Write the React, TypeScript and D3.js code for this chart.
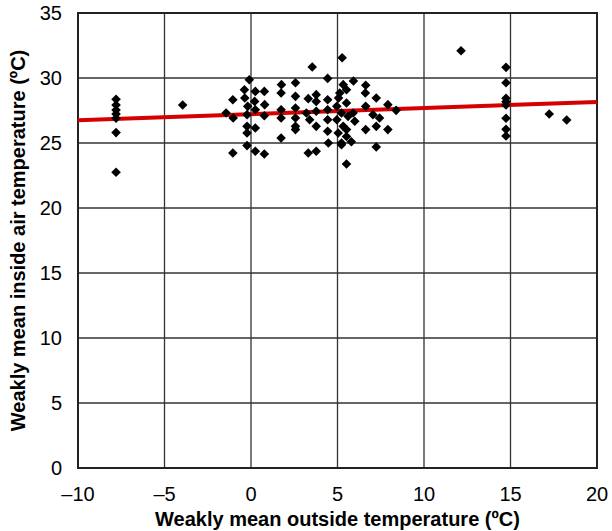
import React, { useRef, useEffect } from 'react';
import * as d3 from 'd3';

// outside temperature (x) and inside temperature (y)
const outsideTemps = [
  -7.8, -7.8, -7.8, -7.8, -7.8, -7.8, -7.8, -3.95,
  5.27, 3.54, -0.1, 4.43, 1.76, 2.57, 5.92, 6.63, -0.38, 0.25, 0.77, -1.05,
  -0.36, 1.74, 2.57, 3.31, 3.77, 3.77, 4.43, 5.06, 5.33, 5.52, 5.13, 6.61,
  7.24, 7.91, 0.21, 0.79, -0.19, -1.44, -1.03, -0.23, 0.25, 0.77, 1.74, 1.74,
  2.57, 2.57, 2.57, 3.2, 3.39, 3.77, 3.77, 4.43, 4.43, 4.43, 4.96, 4.96,
  5.23, 5.52, 5.61, 5.33, 5.04, 5.52, 5.9, 6.0, 6.63, 6.63, 7.05, 7.43,
  7.24, 7.91, 8.39, -0.23, -0.23, 0.25, 1.74, 2.57, 4.47, 5.23, 5.52, 5.8,
  -0.23, -1.05, 0.25, 0.77, 3.31, 3.77, 5.23, 7.24, 5.52,
  12.14, 14.74, 14.74, 14.74, 14.74, 14.74, 14.74, 14.74, 14.74, 17.24, 18.25,
];
const insideTemps = [
  28.36, 27.92, 27.54, 27.23, 26.9, 25.8, 22.75, 27.92,
  31.56, 30.85, 29.87, 29.97, 29.49, 29.64, 29.77, 29.44, 29.1, 28.97, 28.97, 28.33,
  28.46, 28.85, 28.59, 28.41, 28.72, 28.2, 28.33, 28.46, 29.49, 29.1, 28.85, 28.85,
  28.46, 27.95, 28.2, 27.95, 27.82, 27.31, 26.92, 27.18, 27.56, 27.1, 27.56, 26.92,
  27.69, 26.92, 26.28, 27.31, 26.79, 27.44, 26.28, 27.56, 26.79, 25.9, 27.82, 26.79,
  27.31, 28.08, 27.05, 26.28, 25.77, 26.03, 27.31, 26.67, 27.82, 26.03, 27.18, 26.92,
  26.28, 26.03, 27.51, 26.28, 25.77, 26.15, 25.38, 26.03, 25.0, 25.0, 25.5, 25.1,
  24.8, 24.23, 24.36, 24.15, 24.23, 24.36, 24.87, 24.7, 23.38,
  32.1, 30.82, 29.64, 28.44, 28.18, 27.92, 26.9, 26.05, 25.54, 27.23, 26.77,
];

// regression line
const trendIntercept = 27.22;
const trendSlope = 0.047;

const xTicks = [-10, -5, 0, 5, 10, 15, 20];
const yTicks = [0, 5, 10, 15, 20, 25, 30, 35];

const xTitle = 'Weakly mean outside temperature (ºC)';
const yTitle = 'Weakly mean inside air temperature (ºC)';

const width = 612;
const height = 531;

const App = () => {
  const svgRef = useRef<SVGSVGElement>(null);

  useEffect(() => {
    const margin = { top: 13, right: 15, bottom: 63, left: 78 };
    const innerWidth = width - margin.left - margin.right;
    const innerHeight = height - margin.top - margin.bottom;
    const font = '"Liberation Sans", Arial, Helvetica, sans-serif';

    const root = d3.select(svgRef.current);
    root.selectAll('*').remove();
    const svg = root.append('g')
      .attr('transform', `translate(${margin.left},${margin.top})`);

    const x = d3.scaleLinear().domain([-10, 20]).range([0, innerWidth]);
    const y = d3.scaleLinear().domain([0, 35]).range([innerHeight, 0]);

    // grid
    svg.append('g')
      .selectAll('line')
      .data(xTicks)
      .join('line')
      .attr('x1', d => x(d)).attr('x2', d => x(d))
      .attr('y1', 0).attr('y2', innerHeight)
      .attr('stroke', '#333')
      .attr('stroke-width', 1.3);
    svg.append('g')
      .selectAll('line')
      .data(yTicks)
      .join('line')
      .attr('x1', 0).attr('x2', innerWidth)
      .attr('y1', d => y(d)).attr('y2', d => y(d))
      .attr('stroke', '#333')
      .attr('stroke-width', 1.3);

    // frame
    svg.append('rect')
      .attr('width', innerWidth).attr('height', innerHeight)
      .attr('fill', 'none')
      .attr('stroke', '#222')
      .attr('stroke-width', 2);

    // tick labels
    svg.append('g')
      .selectAll('text')
      .data(xTicks)
      .join('text')
      .attr('x', d => x(d))
      .attr('y', innerHeight + 33)
      .attr('text-anchor', 'middle')
      .style('font-family', font)
      .style('font-size', '20px')
      .text(d => (d < 0 ? '\u2013' + Math.abs(d) : String(d)));
    svg.append('g')
      .selectAll('text')
      .data(yTicks)
      .join('text')
      .attr('x', -16)
      .attr('y', d => y(d))
      .attr('dy', '0.35em')
      .attr('text-anchor', 'end')
      .style('font-family', font)
      .style('font-size', '20px')
      .text(d => String(d));

    // trend line
    const line = d3.line<number>()
      .x(d => x(d))
      .y(d => y(trendIntercept + trendSlope * d));
    svg.append('path')
      .datum([-10, 20])
      .attr('fill', 'none')
      .attr('stroke', '#d60000')
      .attr('stroke-width', 4)
      .attr('d', line);

    // points
    const diamond = d3.symbol().type(d3.symbolSquare).size(46);
    svg.append('g')
      .selectAll('path')
      .data(d3.range(outsideTemps.length))
      .join('path')
      .attr('transform', i => `translate(${x(outsideTemps[i])},${y(insideTemps[i])}) rotate(45)`)
      .attr('d', diamond)
      .attr('fill', '#000');

    // axis titles
    svg.append('text')
      .attr('x', innerWidth / 2)
      .attr('y', innerHeight + 58)
      .attr('text-anchor', 'middle')
      .style('font-family', font)
      .style('font-size', '20px')
      .style('font-weight', 'bold')
      .text(xTitle);
    svg.append('text')
      .attr('transform', 'rotate(-90)')
      .attr('x', -innerHeight / 2)
      .attr('y', -margin.left + 25)
      .attr('text-anchor', 'middle')
      .style('font-family', font)
      .style('font-size', '20px')
      .style('font-weight', 'bold')
      .text(yTitle);
  }, []);

  return (
    <svg
      ref={svgRef}
      width={width}
      height={height}
      style={{ position: 'absolute', left: 0, top: 0, background: '#fff' }}
    />
  );
};

export default App;
